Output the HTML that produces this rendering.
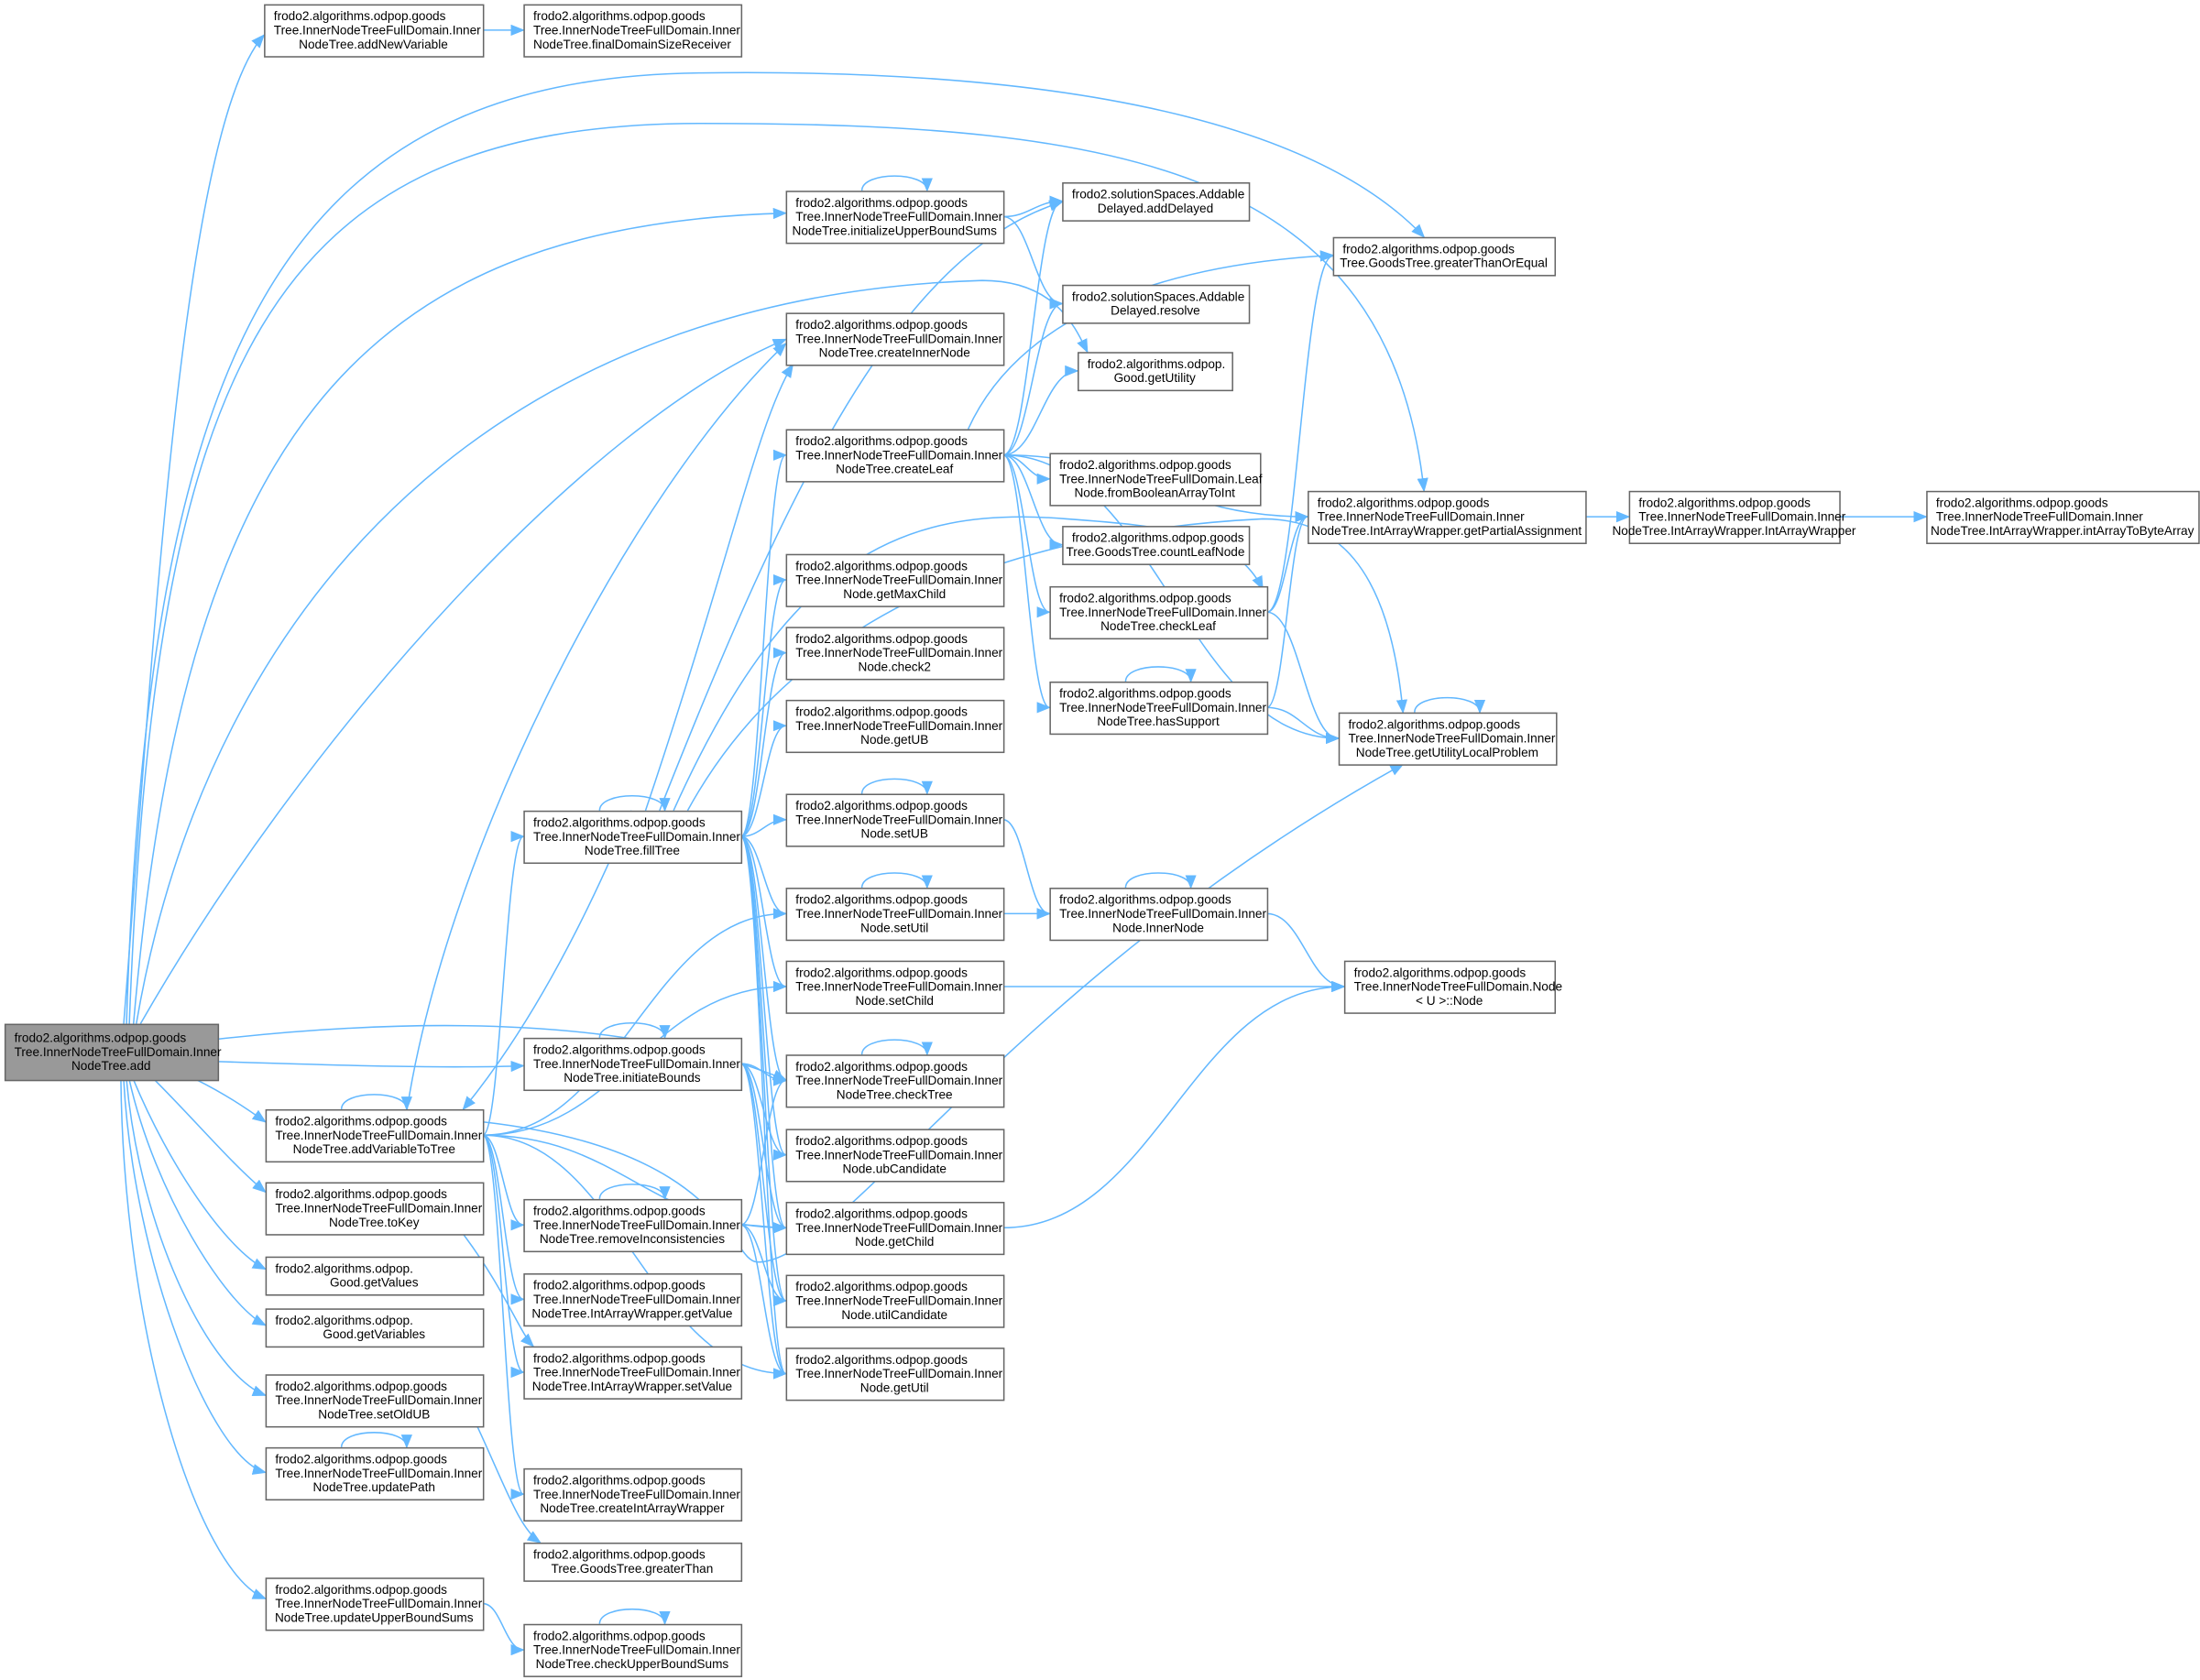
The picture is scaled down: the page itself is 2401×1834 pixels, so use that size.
<!DOCTYPE html>
<html><head><meta charset="utf-8"><style>
html,body{margin:0;padding:0;background:#fff;}
svg{display:block;}
text{font-family:"Liberation Sans",sans-serif;font-size:8.9px;fill:#000;}
</style></head><body>
<svg id="g" width="2401" height="1834" viewBox="0 0 1568 1198" xmlns="http://www.w3.org/2000/svg">
<defs><marker id="a" markerWidth="10" markerHeight="8" refX="9" refY="4" orient="auto" markerUnits="userSpaceOnUse"><path d="M0,0 L10,4 L0,8 z" fill="#63b8ff"/></marker></defs>
<g id="edges" fill="none" stroke="#63b8ff" stroke-width="1"></g>
<g id="nodes"></g>
</svg>
<script>
var N={
root:[3,730,152,40,["frodo2.algorithms.odpop.goods","Tree.InnerNodeTreeFullDomain.Inner","NodeTree.add"],1],
addNew:[188,3,156,37,["frodo2.algorithms.odpop.goods","Tree.InnerNodeTreeFullDomain.Inner","NodeTree.addNewVariable"]],
addVar:[189,791,155,37,["frodo2.algorithms.odpop.goods","Tree.InnerNodeTreeFullDomain.Inner","NodeTree.addVariableToTree"]],
toKey:[189,843,155,37,["frodo2.algorithms.odpop.goods","Tree.InnerNodeTreeFullDomain.Inner","NodeTree.toKey"]],
getValues:[189,896,155,27,["frodo2.algorithms.odpop.","Good.getValues"]],
getVars:[189,933,155,27,["frodo2.algorithms.odpop.","Good.getVariables"]],
setOldUB:[189,980,155,37,["frodo2.algorithms.odpop.goods","Tree.InnerNodeTreeFullDomain.Inner","NodeTree.setOldUB"]],
updatePath:[189,1032,155,37,["frodo2.algorithms.odpop.goods","Tree.InnerNodeTreeFullDomain.Inner","NodeTree.updatePath"]],
updUBS:[189,1125,155,37,["frodo2.algorithms.odpop.goods","Tree.InnerNodeTreeFullDomain.Inner","NodeTree.updateUpperBoundSums"]],
fillTree:[373,578,155,37,["frodo2.algorithms.odpop.goods","Tree.InnerNodeTreeFullDomain.Inner","NodeTree.fillTree"]],
initB:[373,740,155,37,["frodo2.algorithms.odpop.goods","Tree.InnerNodeTreeFullDomain.Inner","NodeTree.initiateBounds"]],
remInc:[373,855,155,37,["frodo2.algorithms.odpop.goods","Tree.InnerNodeTreeFullDomain.Inner","NodeTree.removeInconsistencies"]],
finalDom:[373,3,155,37,["frodo2.algorithms.odpop.goods","Tree.InnerNodeTreeFullDomain.Inner","NodeTree.finalDomainSizeReceiver"]],
getValue:[373,908,155,37,["frodo2.algorithms.odpop.goods","Tree.InnerNodeTreeFullDomain.Inner","NodeTree.IntArrayWrapper.getValue"]],
setValue:[373,960,155,37,["frodo2.algorithms.odpop.goods","Tree.InnerNodeTreeFullDomain.Inner","NodeTree.IntArrayWrapper.setValue"]],
createIAW:[373,1047,155,37,["frodo2.algorithms.odpop.goods","Tree.InnerNodeTreeFullDomain.Inner","NodeTree.createIntArrayWrapper"]],
gt:[373,1100,155,27,["frodo2.algorithms.odpop.goods","Tree.GoodsTree.greaterThan"]],
checkUBS:[373,1158,155,37,["frodo2.algorithms.odpop.goods","Tree.InnerNodeTreeFullDomain.Inner","NodeTree.checkUpperBoundSums"]],
initUBS:[560,136,155,37,["frodo2.algorithms.odpop.goods","Tree.InnerNodeTreeFullDomain.Inner","NodeTree.initializeUpperBoundSums"]],
createInner:[560,223,155,37,["frodo2.algorithms.odpop.goods","Tree.InnerNodeTreeFullDomain.Inner","NodeTree.createInnerNode"]],
createLeaf:[560,306,155,37,["frodo2.algorithms.odpop.goods","Tree.InnerNodeTreeFullDomain.Inner","NodeTree.createLeaf"]],
getMax:[560,395,155,37,["frodo2.algorithms.odpop.goods","Tree.InnerNodeTreeFullDomain.Inner","Node.getMaxChild"]],
check2:[560,447,155,37,["frodo2.algorithms.odpop.goods","Tree.InnerNodeTreeFullDomain.Inner","Node.check2"]],
getUB:[560,499,155,37,["frodo2.algorithms.odpop.goods","Tree.InnerNodeTreeFullDomain.Inner","Node.getUB"]],
setUB:[560,566,155,37,["frodo2.algorithms.odpop.goods","Tree.InnerNodeTreeFullDomain.Inner","Node.setUB"]],
setUtil:[560,633,155,37,["frodo2.algorithms.odpop.goods","Tree.InnerNodeTreeFullDomain.Inner","Node.setUtil"]],
setChild:[560,685,155,37,["frodo2.algorithms.odpop.goods","Tree.InnerNodeTreeFullDomain.Inner","Node.setChild"]],
checkTree:[560,752,155,37,["frodo2.algorithms.odpop.goods","Tree.InnerNodeTreeFullDomain.Inner","NodeTree.checkTree"]],
ubCand:[560,805,155,37,["frodo2.algorithms.odpop.goods","Tree.InnerNodeTreeFullDomain.Inner","Node.ubCandidate"]],
getChild:[560,857,155,37,["frodo2.algorithms.odpop.goods","Tree.InnerNodeTreeFullDomain.Inner","Node.getChild"]],
utilCand:[560,909,155,37,["frodo2.algorithms.odpop.goods","Tree.InnerNodeTreeFullDomain.Inner","Node.utilCandidate"]],
getUtil:[560,961,155,37,["frodo2.algorithms.odpop.goods","Tree.InnerNodeTreeFullDomain.Inner","Node.getUtil"]],
addDel:[757,130,133,27,["frodo2.solutionSpaces.Addable","Delayed.addDelayed"]],
resolve:[757,203,133,27,["frodo2.solutionSpaces.Addable","Delayed.resolve"]],
getUtility:[768,251,110,27,["frodo2.algorithms.odpop.","Good.getUtility"]],
fromBool:[748,323,150,37,["frodo2.algorithms.odpop.goods","Tree.InnerNodeTreeFullDomain.Leaf","Node.fromBooleanArrayToInt"]],
countLeaf:[757,375,133,27,["frodo2.algorithms.odpop.goods","Tree.GoodsTree.countLeafNode"]],
checkLeaf:[748,418,155,37,["frodo2.algorithms.odpop.goods","Tree.InnerNodeTreeFullDomain.Inner","NodeTree.checkLeaf"]],
hasSupport:[748,486,155,37,["frodo2.algorithms.odpop.goods","Tree.InnerNodeTreeFullDomain.Inner","NodeTree.hasSupport"]],
innerNode:[748,633,155,37,["frodo2.algorithms.odpop.goods","Tree.InnerNodeTreeFullDomain.Inner","Node.InnerNode"]],
gte:[950,169,158,27,["frodo2.algorithms.odpop.goods","Tree.GoodsTree.greaterThanOrEqual"]],
partial:[932,350,198,37,["frodo2.algorithms.odpop.goods","Tree.InnerNodeTreeFullDomain.Inner","NodeTree.IntArrayWrapper.getPartialAssignment"]],
utilLP:[954,508,155,37,["frodo2.algorithms.odpop.goods","Tree.InnerNodeTreeFullDomain.Inner","NodeTree.getUtilityLocalProblem"]],
node:[958,685,150,37,["frodo2.algorithms.odpop.goods","Tree.InnerNodeTreeFullDomain.Node","< U >::Node"]],
iaw:[1161,350,150,37,["frodo2.algorithms.odpop.goods","Tree.InnerNodeTreeFullDomain.Inner","NodeTree.IntArrayWrapper.IntArrayWrapper"]],
toByte:[1373,350,194,37,["frodo2.algorithms.odpop.goods","Tree.InnerNodeTreeFullDomain.Inner","NodeTree.IntArrayWrapper.intArrayToByteArray"]]
};
var NS="http://www.w3.org/2000/svg";
var ng=document.getElementById("nodes"),eg=document.getElementById("edges");
for(var k in N){var n=N[k];
 var r=document.createElementNS(NS,"rect");r.setAttribute("x",n[0]+.5);r.setAttribute("y",n[1]+.5);r.setAttribute("width",n[2]);r.setAttribute("height",n[3]);
 r.setAttribute("fill",n[5]?"#999999":"#ffffff");r.setAttribute("stroke","#666");ng.appendChild(r);
 var L=n[4],lh=10,y0=n[1]+n[3]/2-(L.length*lh)/2+8;
 for(var i=0;i<L.length;i++){var t=document.createElementNS(NS,"text");
  if(i==L.length-1){t.setAttribute("x",n[0]+n[2]/2);t.setAttribute("text-anchor","middle");}else{t.setAttribute("x",n[0]+7);}
  t.setAttribute("y",y0+i*lh);t.textContent=L[i];ng.appendChild(t);}
}
function P(d){var p=document.createElementNS(NS,"path");p.setAttribute("d",d);p.setAttribute("marker-end","url(#a)");eg.appendChild(p);}
function E(a,b){var A=N[a],B=N[b];var x1=A[0]+A[2],y1=A[1]+A[3]/2,x2=B[0],y2=B[1]+B[3]/2;
 var mx=(x2-x1)*0.45;P("M"+x1+","+y1+" C"+(x1+mx)+","+y1+" "+(x2-mx)+","+y2+" "+x2+","+y2);}
function S(a){var A=N[a],x1=A[0]+A[2]*0.35,x2=A[0]+A[2]*0.65,y=A[1];P("M"+x1+","+y+" C"+x1+","+(y-14)+" "+x2+","+(y-14)+" "+x2+","+y);}
P("M88,730 C110,450 130,90 188,25");
P("M90,730 C105,250 200,55 500,52 C800,48 950,100 1015,169");
P("M92,730 C110,260 190,88 500,88 C800,88 990,120 1015,350");
P("M95,730 C130,320 250,160 560,152");
P("M100,730 C220,520 420,300 560,242");
P("M97,730 C150,420 360,210 700,200 C750,200 765,230 775,251");
P("M155,741 C300,725 450,725 560,770");
P("M155,757 C250,760 320,762 373,760");
P("M140,770 C160,780 175,790 189,800");
P("M110,770 C140,800 165,830 189,850");
P("M95,770 C120,830 160,890 189,905");
P("M92,770 C110,850 160,930 189,945");
P("M90,770 C100,880 150,980 189,995");
P("M88,770 C95,900 150,1040 189,1050");
P("M86,770 C88,950 140,1120 189,1140");
E("addNew","finalDom");
S("addVar");E("addVar","fillTree");
P("M290,791 C320,600 450,350 560,245");
E("addVar","setUtil");E("addVar","setChild");E("addVar","remInc");E("addVar","getValue");E("addVar","setValue");E("addVar","createIAW");E("addVar","getUtil");E("addVar","getChild");
P("M344,800 C520,820 520,900 540,900 C600,900 720,700 1000,545");
S("fillTree");
["createLeaf","getMax","check2","getUB","setUB","setUtil","setChild","checkTree","ubCand","getChild","utilCand","getUtil"].forEach(function(b){E("fillTree",b);});
P("M460,578 C520,400 540,300 565,260");
P("M470,578 C560,350 640,180 757,144");
P("M480,578 C560,400 640,360 760,370 C830,375 880,380 900,420");
P("M490,578 C560,450 700,380 900,370 C950,370 990,400 1000,508");
P("M450,578 C420,650 380,730 330,791");
S("initB");["checkTree","ubCand","getChild","utilCand","getUtil"].forEach(function(b){E("initB",b);});
S("remInc");["getChild","utilCand","getUtil","checkTree"].forEach(function(b){E("remInc",b);});
["addDel","resolve","getUtility","fromBool","countLeaf","checkLeaf","hasSupport","partial","utilLP"].forEach(function(b){E("createLeaf",b);});
P("M690,306 C720,240 800,190 950,182");
S("initUBS");E("initUBS","addDel");E("initUBS","resolve");
E("checkLeaf","gte");E("checkLeaf","partial");E("checkLeaf","utilLP");
S("hasSupport");E("hasSupport","partial");E("hasSupport","utilLP");
S("setUB");E("setUB","innerNode");S("setUtil");E("setUtil","innerNode");S("innerNode");E("innerNode","node");
E("setChild","node");E("getChild","node");S("checkTree");S("utilLP");
E("partial","iaw");E("iaw","toByte");
P("M330,880 C360,920 370,950 380,960");
P("M340,1017 C360,1060 370,1090 385,1100");
S("updatePath");E("updUBS","checkUBS");S("checkUBS");
</script>
</body></html>
